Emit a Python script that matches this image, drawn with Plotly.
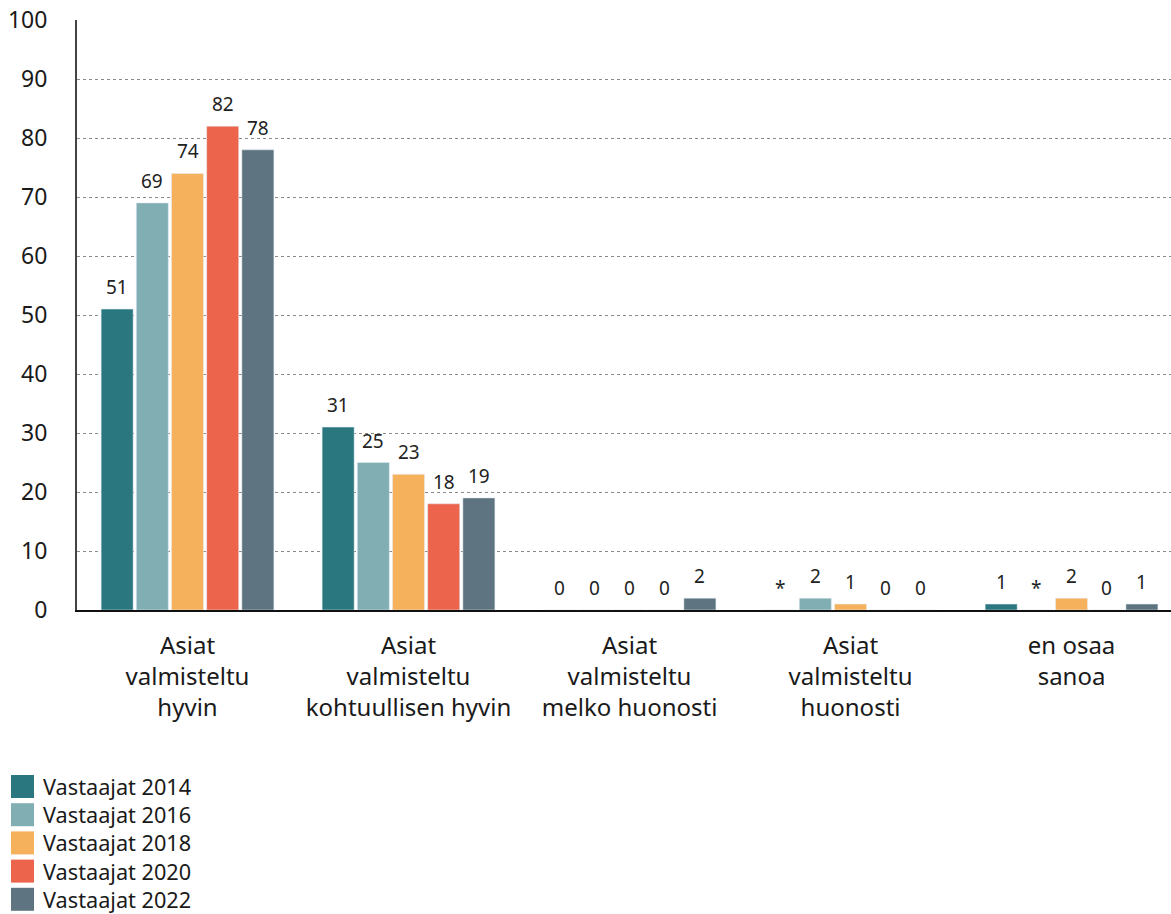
import plotly.graph_objects as go

categories = ["Asiat<br>valmisteltu<br>hyvin", "Asiat<br>valmisteltu<br>kohtuullisen hyvin",
              "Asiat<br>valmisteltu<br>melko huonosti", "Asiat<br>valmisteltu<br>huonosti",
              "en osaa<br>sanoa"]
series_names = ["Vastaajat 2014", "Vastaajat 2016", "Vastaajat 2018", "Vastaajat 2020", "Vastaajat 2022"]
values_2014 = [51, 31, 0, 0, 1]
values_2016 = [69, 25, 0, 2, 0]
values_2018 = [74, 23, 0, 1, 2]
values_2020 = [82, 18, 0, 0, 0]
values_2022 = [78, 19, 2, 0, 1]
labels_2014 = ["51", "31", "0", "*", "1"]
labels_2016 = ["69", "25", "0", "2", "*"]
labels_2018 = ["74", "23", "0", "1", "2"]
labels_2020 = ["82", "18", "0", "0", "0"]
labels_2022 = ["78", "19", "2", "0", "1"]
colors = ["#2a777f", "#80aeb3", "#f6b15c", "#eb644b", "#5e7581"]

all_values = [values_2014, values_2016, values_2018, values_2020, values_2022]
all_labels = [labels_2014, labels_2016, labels_2018, labels_2020, labels_2022]

W, H = 1171, 914
L, R, T, B = 77, 0, 20, 304
FONT = "Noto Sans, Open Sans, sans-serif"
BARGAP = 0.204
BARGROUPGAP = 0.09

fig = go.Figure()
xs = list(range(len(categories)))
for name, vals, col in zip(series_names, all_values, colors):
    fig.add_trace(go.Bar(
        x=xs, y=vals, name=name, marker_color=col, showlegend=False,
    ))

annotations = []
nser = len(series_names)
slot = (1 - BARGAP) / nser
for i, (vals, labs) in enumerate(zip(all_values, all_labels)):
    off = (i - (nser - 1) / 2) * slot
    for j, (v, t) in enumerate(zip(vals, labs)):
        annotations.append(dict(x=j + off, y=v, xref="x", yref="y", text=t,
                                showarrow=False, xanchor="center", yanchor="bottom",
                                yshift=7, font=dict(size=19, color="#222222", family=FONT)))

# custom legend (larger square swatches)
pw = W - L - R
ph = H - T - B
def px_x(x):
    return (x - L) / pw
def px_y(y):
    return (H - B - y) / ph

LEG_TOP = 775
LEG_STEP = 28.2
shapes = []
for i, col in enumerate(colors):
    top = LEG_TOP + i * LEG_STEP
    shapes.append(dict(type="rect", xref="paper", yref="paper",
                       x0=px_x(11), x1=px_x(34), y0=px_y(top + 23), y1=px_y(top),
                       fillcolor=col, line=dict(width=0)))
leg_center = LEG_TOP + 11.5 + (len(colors) - 1) * LEG_STEP / 2
annotations.append(dict(xref="paper", yref="paper", x=px_x(42), y=px_y(leg_center),
                        xanchor="left", yanchor="middle", align="left", showarrow=False,
                        borderpad=0, text="<br>".join(series_names),
                        font=dict(size=LEG_STEP / 1.3, color="#1a1a1a", family=FONT)))

fig.update_layout(
    width=W, height=H,
    margin=dict(l=L, r=R, t=T, b=B, pad=0),
    paper_bgcolor="white", plot_bgcolor="white",
    barmode="group", bargap=BARGAP, bargroupgap=BARGROUPGAP,
    font=dict(family=FONT, color="#1a1a1a", size=22),
    shapes=shapes, annotations=annotations,
    xaxis=dict(
        tickmode="array", tickvals=xs, ticktext=categories,
        range=[-0.5, 4.45], showline=True, linecolor="#111111", linewidth=2,
        showgrid=False, ticks="", ticklabelstandoff=13,
        tickfont=dict(size=24, color="#1a1a1a"),
    ),
    yaxis=dict(
        range=[0, 100], dtick=10, showline=True, linecolor="#444444", linewidth=2,
        showgrid=True, gridcolor="#8a8a8a", griddash="dot", gridwidth=1,
        zeroline=False, ticks="", ticklabelstandoff=23,
        tickfont=dict(size=23, color="#1a1a1a"),
    ),
)

fig.write_html("out.html", config={"displayModeBar": False},
               post_script="document.body.style.margin='0px';document.body.style.padding='0px';")
